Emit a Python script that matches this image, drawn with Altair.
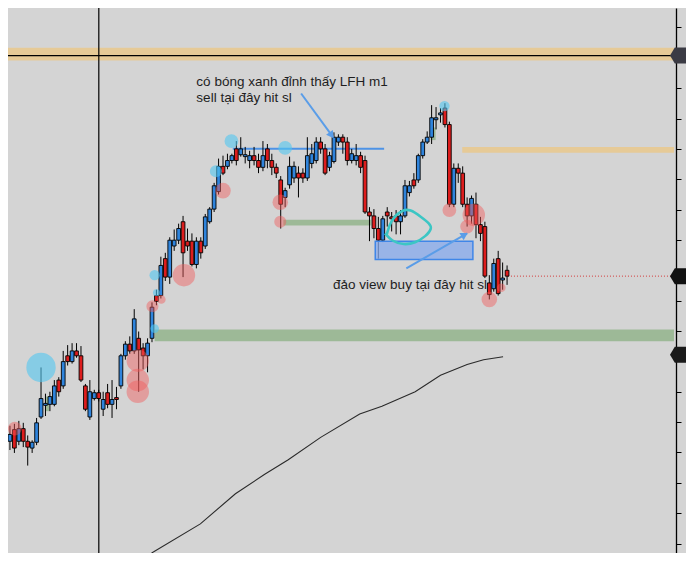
import math
import altair as alt
import pandas as pd

# candle prices (chart points), one value per bar, left to right
OPEN = [554, 566, 554, 567, 554, 547, 553, 579, 591, 592,
        592, 617, 611, 642, 636, 647, 642, 611, 579, 598,
        604, 587, 604, 592, 599, 611, 642, 654, 647, 660,
        650, 642, 660, 704, 704, 742, 723, 755, 761, 780,
        760, 760, 736, 760, 755, 780, 793, 811, 837, 837,
        843, 855, 849, 847, 843, 848, 843, 836, 855, 843,
        836, 823, 805, 818, 825, 830, 830, 825, 840, 843,
        862, 855, 836, 842, 862, 867, 862, 843, 843, 848,
        843, 790, 786, 773, 761, 790, 785, 786, 780, 786,
        810, 823, 823, 848, 862, 867, 885, 890, 897, 880,
        798, 835, 830, 798, 786, 798, 777, 775, 717, 711,
        742, 720, 730]
HIGH = [570, 572, 575, 573, 560, 555, 578, 630, 603, 605,
        617, 620, 647, 653, 655, 655, 652, 613, 617, 607,
        607, 605, 613, 617, 610, 644, 657, 662, 690, 667,
        655, 660, 697, 710, 744, 748, 764, 772, 778, 786,
        773, 768, 764, 764, 788, 795, 820, 845, 848, 850,
        850, 863, 867, 857, 853, 857, 850, 863, 860, 850,
        840, 827, 815, 847, 842, 837, 835, 867, 860, 867,
        867, 860, 852, 872, 870, 870, 867, 855, 860, 852,
        848, 795, 793, 785, 786, 795, 790, 792, 792, 823,
        822, 830, 850, 865, 873, 900, 898, 897, 902, 883,
        840, 840, 837, 805, 807, 810, 785, 780, 725, 742,
        750, 738, 735]
LOW = [545, 542, 550, 548, 529, 542, 550, 577, 580, 585,
       590, 600, 608, 632, 634, 640, 615, 585, 576, 596,
       595, 580, 588, 578, 587, 608, 638, 644, 644, 605,
       628, 625, 656, 694, 701, 719, 716, 750, 757, 723,
       750, 734, 732, 742, 752, 778, 790, 808, 828, 834,
       840, 838, 847, 840, 835, 838, 830, 832, 835, 828,
       825, 773, 795, 814, 820, 805, 820, 822, 835, 840,
       850, 828, 832, 840, 858, 850, 838, 840, 838, 830,
       788, 760, 763, 742, 759, 775, 770, 767, 767, 784,
       806, 814, 820, 845, 860, 860, 875, 882, 877, 795,
       795, 820, 795, 775, 778, 763, 760, 722, 700, 708,
       704, 710, 715]
CLOSE = [561, 547, 567, 554, 548, 553, 573, 598, 593, 600,
         611, 605, 636, 636, 647, 642, 617, 587, 605, 604,
         598, 597, 592, 597, 597, 642, 654, 647, 680, 648,
         642, 655, 692, 698, 735, 723, 761, 761, 773, 748,
         755, 736, 760, 748, 785, 793, 817, 837, 830, 843,
         848, 843, 855, 849, 848, 843, 836, 848, 843, 836,
         830, 798, 812, 837, 837, 825, 825, 848, 850, 862,
         855, 830, 848, 867, 867, 862, 843, 850, 848, 836,
         790, 786, 773, 761, 783, 786, 783, 780, 786, 817,
         817, 817, 848, 862, 867, 887, 887, 892, 880, 798,
         835, 830, 798, 786, 804, 777, 768, 724, 705, 737,
         706, 722, 724]

# slow moving average (bar index, price)
MA_X = [31.9, 32.3, 42.9, 50.8, 57.4, 62.7, 70.0, 78.8, 83.8, 91.3, 97.0, 103.0, 106.7, 111.1]
MA_Y = [439, 440, 469, 500, 520, 535, 558, 582, 590, 605, 622, 633, 638, 641]

# zones drawn on the chart
ZONE_X1 = [-0.44, 101.9, 32.6, 61.6, 7.9, 94.8]
ZONE_X2 = [149.6, 149.6, 149.6, 81.4, 8.8, 95.9]
ZONE_Y1 = [946, 851, 657, 776, 585, 864]
ZONE_Y2 = [959, 857, 669, 782, 600, 877]
ZONE_COL = ["#e6ca97", "#e6ca97", "#9db997", "#9db997", "#9db997", "#9db997"]

# highlight circles (bar index, price, radius px, kind)
DOT_X = [7.0, 1.1, 32.6, 33.0, 34.1, 32.1, 32.6, 39.2, 46.4, 48.0, 49.9, 62.0,
         60.9, 60.9, 28.8, 28.8, 28.8, 99.0, 104.5, 103.0, 97.9, 108.0, 110.7]
DOT_Y = [630, 567, 725, 707, 700, 693, 670, 725, 832, 812, 863, 856,
         800, 780, 637, 617, 605, 792, 787, 775, 899, 700, 712]
DOT_R = [17, 8, 6, 4, 5, 7, 5, 13, 7, 9, 8, 8,
         9, 7, 13, 13, 13, 8, 13, 8, 6, 9, 5]
DOT_KIND = ["c", "p", "c", "c", "p", "p", "c", "p", "c", "p", "c", "c",
            "p", "p", "p", "p", "p", "p", "p", "p", "c", "p", "p"]

# hand-drawn loop
LOOP_X = [84.9, 85.8, 88.2, 90.2, 92.6, 94.6, 95.1, 93.7, 91.3, 88.7, 86.0, 84.5]
LOOP_Y = [767, 782, 792, 793, 785, 778, 773, 765, 758, 756, 760, 768]

NOTES = ["có bóng xanh đỉnh thấy LFH m1", "sell tại đây hit sl", "đảo view buy tại đây hit sl"]
NOTE_X = [42.0, 42.0, 72.8]
NOTE_Y = [924, 907, 715]

ARROW_X1 = [65.6, 89.3]
ARROW_Y1 = [912, 732]
ARROW_X2 = [72.8, 103.0]
ARROW_Y2 = [867, 768]
HEAD_X = [72.3, 102.2]
HEAD_Y = [870, 766]
HEAD_ANGLE = [144, 60]

MARK_Y = [951, 724, 643]
MARK_COL = ["#3b3b44", "#111111", "#1a1a1a"]
TICKS = [980 - 31.25 * k for k in range(18)]

X = alt.Scale(domain=[-0.44, 150.06], nice=False, zero=False)
Y = alt.Scale(domain=[439, 1000], nice=False, zero=False)
YAX = alt.Axis(orient="right", labels=False, title=None, grid=False, values=TICKS,
               tickSize=5, tickColor="black", domainColor="black", domainWidth=1.3)


def xq(f):
    return alt.X(f, type="quantitative", scale=X, axis=None)


def yq(f):
    return alt.Y(f, type="quantitative", scale=Y, axis=YAX)


candles = pd.DataFrame({"open": OPEN, "high": HIGH, "low": LOW, "close": CLOSE})
candles["i"] = range(len(candles))
candles["x1"] = candles["i"] - 0.42
candles["x2"] = candles["i"] + 0.42
candles["col"] = ["#2f84dc" if c >= o else "#dd1d1d" for o, c in zip(OPEN, CLOSE)]

zones = pd.DataFrame({"x1": ZONE_X1, "x2": ZONE_X2, "y1": ZONE_Y1, "y2": ZONE_Y2, "col": ZONE_COL})
dots = pd.DataFrame({"x": DOT_X, "y": DOT_Y, "r": DOT_R, "kind": DOT_KIND})
dots["area"] = [math.pi * r * r * 0.95 for r in DOT_R]
dots["col"] = ["#52c6f0" if k == "c" else "#f25c5c" for k in DOT_KIND]
dots["op"] = [0.6 if k == "c" else 0.45 for k in DOT_KIND]
ma = pd.DataFrame({"x": MA_X, "y": MA_Y})
loop = pd.DataFrame({"x": LOOP_X, "y": LOOP_Y, "o": range(len(LOOP_X))})
notes = pd.DataFrame({"x": NOTE_X, "y": NOTE_Y, "t": NOTES})
arrows = pd.DataFrame({"x1": ARROW_X1, "y1": ARROW_Y1, "x2": ARROW_X2, "y2": ARROW_Y2})
heads = pd.DataFrame({"x": HEAD_X, "y": HEAD_Y, "a": HEAD_ANGLE})
marks = pd.DataFrame({"y": MARK_Y, "col": MARK_COL})

zone_layer = alt.Chart(zones).mark_rect().encode(
    x=xq("x1"), x2="x2", y=yq("y1"), y2="y2", color=alt.Color("col:N", scale=None))

hline = alt.Chart(pd.DataFrame({"y": [951], "x1": [-0.44], "x2": [150.06]})).mark_rule(
    color="black", strokeWidth=1.2).encode(x=xq("x1"), x2="x2", y=yq("y"))
vline = alt.Chart(pd.DataFrame({"x": [20.02]})).mark_rule(
    color="black", strokeWidth=1.2).encode(x=xq("x"))
red_dots = alt.Chart(pd.DataFrame({"y": [724], "x1": [112.2], "x2": [149.6]})).mark_rule(
    color="#d23a3a", strokeWidth=1, strokeDash=[1, 2]).encode(x=xq("x1"), x2="x2", y=yq("y"))
blue_line = alt.Chart(pd.DataFrame({"y": [855], "x1": [50.2], "x2": [84.3]})).mark_rule(
    color="#4e93e6", strokeWidth=2).encode(x=xq("x1"), x2="x2", y=yq("y"))

ma_layer = alt.Chart(ma).mark_line(color="#2a2a2a", strokeWidth=1.1, clip=True).encode(
    x=xq("x"), y=yq("y"))

note_layer = alt.Chart(notes).mark_text(
    align="left", baseline="middle", font="Liberation Sans", fontSize=13.5, color="#1e1e1e"
).encode(x=xq("x"), y=yq("y"), text="t:N")

wicks = alt.Chart(candles).mark_rule(color="black", strokeWidth=1).encode(
    x=xq("i"), y=yq("low"), y2="high")
bodies = alt.Chart(candles).mark_rect(stroke="black", strokeWidth=0.9).encode(
    x=xq("x1"), x2="x2", y=yq("open"), y2="close", color=alt.Color("col:N", scale=None))

dot_layer = alt.Chart(dots).mark_circle().encode(
    x=xq("x"), y=yq("y"), size=alt.Size("area:Q", scale=None),
    color=alt.Color("col:N", scale=None), opacity=alt.Opacity("op:Q", scale=None))

box = alt.Chart(pd.DataFrame({"x1": [82.3], "x2": [104.3], "y1": [741], "y2": [760]})).mark_rect(
    fill="#86a9ee", fillOpacity=0.75, stroke="#3f86e8", strokeWidth=1.5
).encode(x=xq("x1"), x2="x2", y=yq("y1"), y2="y2")

loop_layer = alt.Chart(loop).mark_line(color="#3cc6c4", strokeWidth=2.6, interpolate="basis").encode(
    x=xq("x"), y=yq("y"), order="o:Q")

arrow_layer = alt.Chart(arrows).mark_rule(color="#5a9de8", strokeWidth=2).encode(
    x=xq("x1"), x2="x2", y=yq("y1"), y2="y2")
head_layer = alt.Chart(heads).mark_point(
    shape="triangle", filled=True, color="#5a9de8", size=70, opacity=1
).encode(x=xq("x"), y=yq("y"), angle=alt.Angle("a:Q", scale=None))

axis_marks = alt.Chart(marks).mark_point(
    shape="M -1 0 L -0.4 -1 L 1 -1 L 1 1 L -0.4 1 Z", filled=True, size=256, opacity=1
).encode(x=alt.value(670), y=yq("y"), color=alt.Color("col:N", scale=None))

chart = alt.layer(
    zone_layer, hline, vline, red_dots, blue_line, ma_layer, note_layer,
    wicks, bodies, dot_layer, box, loop_layer, arrow_layer, head_layer, axis_marks
).properties(
    width=668, height=545, background="#d4d4d4",
    padding={"left": 0, "top": 0, "right": 10, "bottom": 0},
    autosize=alt.AutoSizeParams(type="none")
).configure_view(stroke=None)

chart.save("out.html", embed_options={"renderer": "svg", "actions": False})
